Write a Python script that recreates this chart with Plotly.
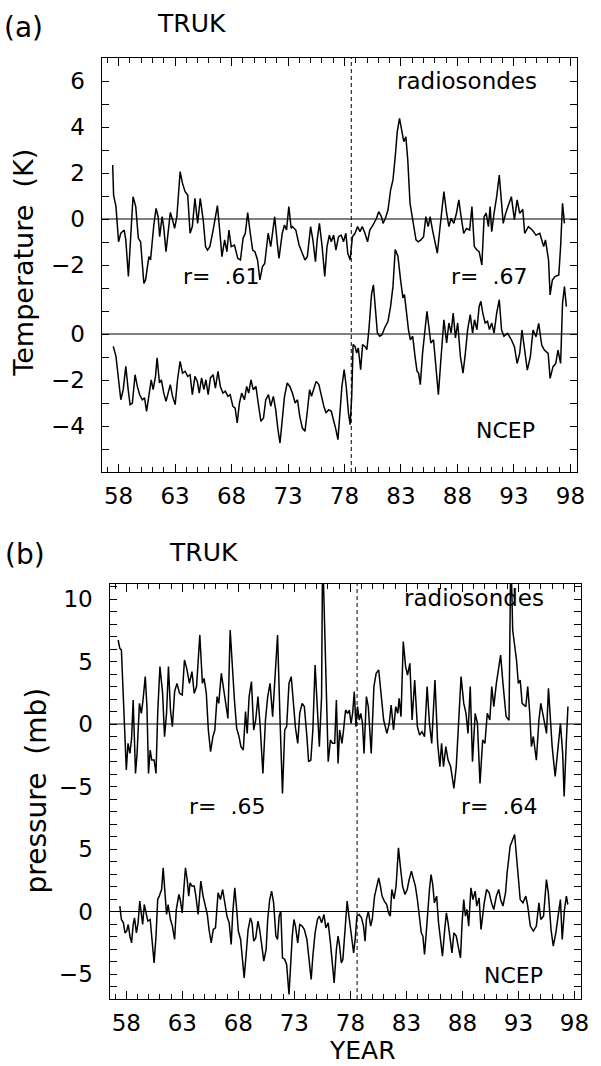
import plotly.graph_objects as go

# ---------------- data ----------------
YEAR_LABELS = [58, 63, 68, 73, 78, 83, 88, 93, 98]
DIVIDE_YEAR = 78.6          # dashed vertical line
TEMP_OFFSET = 5             # radiosonde curve shifted up (K)
PRES_OFFSET = 15            # radiosonde curve shifted up (mb)

TEMP_LABELS_RAD = [6, 4, 2, 0, -2]
TEMP_LABELS_NCEP = [0, -2, -4]
PRES_LABELS_RAD = [10, 5, 0, -5]
PRES_LABELS_NCEP = [5, 0, -5]

# (a) temperature, radiosondes
RAD_T_YEAR = [57.48, 57.56, 57.77, 58.00, 58.20, 58.50, 58.64, 58.87, 59.28, 59.52, 59.75, 59.95, 60.24, 60.39,
              60.68, 60.83, 61.12, 61.32, 61.50, 61.64, 61.85, 61.99, 62.20, 62.37, 62.58, 62.78, 62.96, 63.16,
              63.45, 63.66, 63.89, 64.12, 64.33, 64.53, 64.76, 65.00, 65.23, 65.49, 65.70, 65.87, 66.08, 66.37,
              66.75, 66.95, 67.15, 67.39, 67.59, 67.77, 67.97, 68.26, 68.55, 68.79, 69.02, 69.22, 69.43, 69.66,
              69.87, 70.07, 70.30, 70.51, 70.74, 70.94, 71.24, 71.47, 71.82, 72.05, 72.20, 72.49, 72.69, 72.87,
              73.07, 73.28, 73.39, 73.69, 73.98, 74.21, 74.50, 74.71, 75.00, 75.20, 75.43, 75.58, 75.78, 76.02,
              76.25, 76.45, 76.66, 76.83, 77.04, 77.24, 77.47, 77.71, 77.91, 78.12, 78.29, 78.50, 78.70, 78.93,
              79.16, 79.37, 79.57, 79.81, 80.04, 80.24, 80.53, 80.83, 81.03, 81.27, 81.41, 81.62, 81.85, 82.08,
              82.29, 82.49, 82.67, 82.87, 83.07, 83.25, 83.43, 83.60, 83.80, 83.98, 84.18, 84.33, 84.53, 84.76,
              85.00, 85.20, 85.41, 85.58, 85.79, 85.99, 86.22, 86.43, 86.66, 86.80, 87.04, 87.24, 87.44, 87.68,
              87.91, 88.12, 88.32, 88.55, 88.79, 89.08, 89.28, 89.49, 89.72, 89.92, 90.16, 90.36, 90.54, 90.74,
              90.89, 91.03, 91.24, 91.47, 91.70, 91.90, 92.05, 92.27, 92.60, 92.77, 93.04, 93.28, 93.51, 93.78,
              93.95, 94.28, 94.62, 94.95, 95.29, 95.63, 95.79, 96.06, 96.20, 96.40, 96.63, 96.97, 97.13, 97.30,
              97.47]
RAD_T = [2.35, 1.04, 0.54, -0.99, -0.62, -0.48, -0.91, -2.50, 0.97, 0.54, -0.84, -0.99, -2.80, -2.65,
         -1.64, -1.78, -0.26, 0.46, 0.10, -0.77, 0.10, -0.33, -1.42, -0.77, 0.28, -0.04, -0.41, 0.10,
         2.06, 1.55, 1.19, 1.04, -0.62, -0.33, 0.90, -0.19, 0.90, -0.04, -1.20, -1.35, -1.20, -0.48,
         0.58, -0.48, -1.64, -0.91, -1.42, -0.48, -1.20, -1.13, -1.71, -1.78, -0.84, -0.62, 0.28, -0.62,
         -1.35, -1.42, -1.78, -2.65, -2.07, -1.93, -0.62, -1.20, 0.10, -1.06, -1.71, -0.62, -0.26, -0.48,
         0.54, -0.41, -0.33, -0.48, -1.13, -1.42, -1.78, -1.64, -0.33, -0.91, -1.86, -0.91, -0.19, -1.20,
         -2.50, -1.20, -0.70, -0.99, -0.70, -1.35, -0.77, -0.70, -0.99, -0.62, -1.49, -1.78, -0.77, -0.62,
         -0.33, -0.55, -0.33, -0.62, -0.99, -0.48, -0.26, 0.03, 0.32, 0.10, -0.19, 0.03, 0.39, 1.26,
         1.70, 2.71, 3.80, 4.38, 3.87, 3.36, 3.58, 2.57, 0.68, 0.10, -0.48, -0.91, -0.99, -0.91,
         -0.77, 0.10, -0.33, 0.10, -0.48, -0.99, -1.49, -0.48, 0.68, 1.19, 0.25, -0.33, 0.03, -0.19,
         0.25, 0.83, 0.10, -0.62, -0.41, -0.48, 0.54, -1.20, -1.35, -1.42, -2.00, 0.10, 0.25, -0.33,
         0.54, -0.55, 0.25, 0.97, 1.91, 0.83, -0.19, 0.25, 0.68, 0.97, -0.04, 0.83, 0.25, 0.42,
         -0.62, -0.33, -0.48, -0.70, -0.62, -1.20, -0.91, -1.78, -3.30, -2.65, -2.50, -2.43, -1.20, 0.68,
         -0.19]

# (a) temperature, NCEP
NCEP_T_YEAR = [57.53, 57.77, 58.00, 58.20, 58.41, 58.64, 58.85, 59.02, 59.22, 59.46, 59.66, 59.87, 60.10, 60.30,
               60.48, 60.68, 60.89, 61.06, 61.27, 61.41, 61.62, 61.79, 62.00, 62.20, 62.37, 62.58, 62.78, 63.01,
               63.22, 63.45, 63.66, 63.89, 64.12, 64.33, 64.53, 64.76, 64.97, 65.14, 65.35, 65.55, 65.73, 65.93,
               66.13, 66.37, 66.57, 66.80, 67.01, 67.24, 67.45, 67.68, 67.88, 68.12, 68.32, 68.50, 68.70, 68.90,
               69.14, 69.34, 69.52, 69.72, 69.92, 70.16, 70.36, 70.60, 70.83, 71.03, 71.27, 71.47, 71.70, 71.91,
               72.11, 72.29, 72.49, 72.69, 72.93, 73.16, 73.39, 73.63, 73.84, 74.04, 74.27, 74.50, 74.71, 74.91,
               75.08, 75.29, 75.49, 75.73, 75.96, 76.17, 76.37, 76.60, 76.83, 77.04, 77.24, 77.42, 77.62, 77.77,
               77.97, 78.15, 78.35, 78.50, 78.64, 78.76, 78.93, 79.08, 79.22, 79.43, 79.60, 79.81, 79.98, 80.16,
               80.39, 80.56, 80.74, 80.91, 81.11, 81.32, 81.55, 81.85, 82.08, 82.29, 82.49, 82.73, 82.96, 83.17,
               83.31, 83.45, 83.66, 83.83, 84.04, 84.24, 84.42, 84.56, 84.71, 84.91, 85.12, 85.30, 85.50, 85.64,
               85.88, 86.08, 86.31, 86.51, 86.66, 86.80, 87.04, 87.24, 87.44, 87.62, 87.82, 88.02, 88.26, 88.49,
               88.70, 88.90, 89.13, 89.34, 89.51, 89.72, 89.92, 90.07, 90.24, 90.45, 90.66, 90.83, 91.03, 91.24,
               91.47, 91.70, 91.90, 92.11, 92.44, 92.78, 93.04, 93.28, 93.51, 93.71, 93.95, 94.18, 94.45, 94.69,
               94.95, 95.19, 95.46, 95.69, 96.03, 96.20, 96.46, 96.70, 96.90, 97.13, 97.30, 97.47, 97.64]
NCEP_T = [-0.54, -0.97, -1.99, -2.86, -2.42, -1.41, -2.42, -3.07, -3.00, -1.77, -2.28, -2.64, -2.86, -2.78,
          -3.36, -2.57, -1.99, -2.42, -1.84, -1.04, -2.13, -1.99, -2.57, -2.93, -2.57, -2.20, -2.71, -3.07,
          -1.99, -1.19, -1.70, -1.62, -1.84, -1.77, -2.64, -1.84, -2.06, -2.57, -1.91, -2.42, -1.99, -2.64,
          -1.91, -1.77, -2.35, -1.62, -2.28, -2.57, -2.49, -2.71, -2.64, -3.14, -3.22, -3.87, -3.00, -2.57,
          -2.86, -2.28, -2.57, -1.99, -2.42, -2.28, -3.00, -3.80, -3.65, -2.86, -2.64, -3.14, -2.71, -3.29,
          -4.16, -4.74, -3.72, -2.71, -2.13, -2.28, -2.57, -3.00, -2.86, -3.58, -4.09, -4.23, -3.36, -2.42,
          -2.71, -2.35, -2.06, -2.20, -2.71, -3.14, -3.43, -3.29, -3.36, -3.72, -4.16, -4.59, -3.29, -2.28,
          -1.55, -2.28, -3.43, -3.94, -2.71, -0.46, -0.54, -0.83, -0.61, -1.55, -0.46, -0.54, -0.68, 0.19,
          1.71, 2.14, 1.06, 0.04, -0.10, -0.03, 0.26, 0.55, 1.20, 2.07, 3.67, 3.38, 2.36, 1.57,
          1.71, 1.06, 0.19, -0.25, -0.10, -0.97, -1.62, -1.70, -2.20, -0.83, 0.33, 0.99, 0.19, -0.39,
          -0.25, -1.41, -2.64, -1.26, -0.10, 0.62, -0.39, 0.48, 0.04, 0.91, -0.17, 0.48, -0.97, -1.70,
          -0.83, 0.19, 0.84, 0.04, 0.62, 0.19, 1.20, 1.42, 0.91, 0.48, 0.55, 0.19, 0.48, 0.04,
          0.91, 1.49, 0.19, -0.10, 0.03, -0.26, -0.55, -1.28, -0.84, 0.17, -0.70, -1.57, -0.99, 0.17,
          -0.12, 0.46, -0.48, -0.70, -0.84, -1.93, -1.42, -1.28, -0.70, -1.28, 1.33, 2.06, 1.19]

# (b) pressure, radiosondes
RAD_P_YEAR = [57.27, 57.42, 57.56, 57.74, 57.88, 58.00, 58.15, 58.32, 58.47, 58.61, 58.82, 58.96, 59.17, 59.34,
              59.49, 59.69, 59.84, 59.98, 60.13, 60.27, 60.48, 60.65, 60.80, 61.00, 61.24, 61.41, 61.59, 61.76,
              61.94, 62.11, 62.31, 62.52, 62.75, 62.99, 63.19, 63.39, 63.63, 63.86, 64.06, 64.27, 64.56, 64.79,
              64.94, 65.14, 65.32, 65.52, 65.73, 65.90, 66.10, 66.25, 66.48, 66.69, 66.89, 67.07, 67.27, 67.48,
              67.65, 67.85, 68.06, 68.23, 68.44, 68.64, 68.79, 68.96, 69.17, 69.37, 69.55, 69.75, 69.95, 70.19,
              70.42, 70.62, 70.83, 71.06, 71.27, 71.50, 71.73, 71.94, 72.14, 72.31, 72.52, 72.72, 72.96, 73.10,
              73.30, 73.48, 73.69, 73.89, 74.12, 74.27, 74.47, 74.65, 74.85, 75.06, 75.23, 75.43, 75.52, 76.02,
              76.22, 76.40, 76.60, 76.75, 76.90, 77.04, 77.25, 77.39, 77.57, 77.77, 77.91, 78.06, 78.20, 78.35,
              78.50, 78.64, 78.79, 78.93, 79.08, 79.22, 79.43, 79.60, 79.86, 80.10, 80.30, 80.53, 80.74, 80.97,
              81.26, 81.47, 81.64, 81.85, 82.05, 82.23, 82.35, 82.52, 82.72, 82.93, 83.10, 83.31, 83.51, 83.74,
              83.98, 84.18, 84.39, 84.62, 84.85, 85.06, 85.26, 85.55, 85.79, 85.99, 86.14, 86.31, 86.52, 86.72,
              86.95, 87.24, 87.45, 87.68, 87.88, 88.12, 88.32, 88.50, 88.70, 88.90, 89.14, 89.34, 89.57, 89.81,
              90.01, 90.22, 90.45, 90.62, 90.80, 91.03, 91.24, 91.41, 91.62, 91.90, 92.16, 92.32, 92.49, 92.83,
              92.99, 93.16, 93.33, 93.66, 93.83, 94.00, 94.16, 94.33, 94.60, 94.83, 95.00, 95.24, 95.41, 95.51,
              95.68, 95.84, 96.01, 96.28, 96.51, 96.75, 96.95, 97.08, 97.28, 97.42]
RAD_P = [6.72, 6.05, 5.92, 1.39, -0.75, -3.68, -1.55, -2.35, -1.15, 1.92, -3.95, -2.35, 1.65, 0.85,
         1.92, 3.79, 1.39, -3.95, -2.08, -2.88, -2.88, -3.95, 0.85, 4.59, 2.45, -1.01, 0.85, 4.59,
         1.12, -0.21, 2.59, 3.25, 2.45, 2.32, 5.12, 4.45, 3.25, 4.19, 2.45, 2.99, 7.12, 3.25,
         3.65, 2.45, -0.48, -2.21, -1.01, -0.48, 2.19, 1.65, 4.05, 2.72, 1.39, 0.45, 7.52, 4.05,
         1.92, -0.35, -1.01, -1.81, -2.08, 0.99, -0.75, 2.19, 3.39, -0.48, 0.32, 2.19, -0.21, -3.95,
         0.32, 2.19, 3.25, 0.59, 3.79, 7.12, 0.05, -5.55, -0.48, -0.21, 3.25, 3.79, 1.20, -0.32,
         -1.55, 0.85, 1.65, 1.39, -1.01, -3.01, -2.88, -0.48, 4.72, 1.39, -1.81, 2.19, 14.0, -3.01,
         -1.28, -1.55, -1.55, 1.92, -3.15, -0.48, -1.55, -0.48, 1.12, 0.85, 1.12, 0.05, 0.85, 2.59,
         -0.21, 1.39, 0.32, 0.85, 0.05, -2.35, 2.19, 1.39, -2.35, 2.99, 4.05, 4.32, 2.45, 0.32,
         -0.75, 0.05, 1.52, -0.48, 1.39, 0.85, 2.05, 0.59, 6.59, 4.59, 3.92, 4.85, 0.32, 3.52,
         -0.21, -0.88, -0.61, -1.01, 2.99, 0.05, -1.55, 3.52, -1.55, -3.41, -1.55, -3.41, -1.81, -2.88,
         -3.41, -5.15, -3.41, 0.32, 3.79, 1.65, 0.85, -0.75, 2.99, -3.01, 0.85, 0.05, -4.75, -1.28,
         -1.55, 0.85, 0.32, 2.99, 1.39, 3.25, 4.59, 5.52, 3.25, 0.60, 0.30, 14.0, 7.50, 5.10,
         3.25, 3.52, 1.65, 1.39, 3.00, 1.00, -1.80, -1.00, -2.90, 0.30, 1.65, 0.60, -0.20, -0.75,
         2.85, 0.85, -1.80, -4.20, -2.10, 0.05, -2.35, -5.80, -1.30, 1.40]

# (b) pressure, NCEP
NCEP_P_YEAR = [57.42, 57.56, 57.74, 57.88, 58.03, 58.17, 58.32, 58.47, 58.61, 58.73, 58.90, 59.05, 59.20, 59.34,
               59.46, 59.60, 59.78, 59.92, 60.13, 60.27, 60.48, 60.65, 60.80, 60.94, 61.15, 61.29, 61.44, 61.59,
               61.73, 61.94, 62.11, 62.31, 62.46, 62.69, 62.81, 62.99, 63.13, 63.28, 63.43, 63.57, 63.69, 63.86,
               64.06, 64.21, 64.41, 64.65, 64.85, 65.08, 65.23, 65.38, 65.58, 65.76, 65.96, 66.19, 66.40, 66.60,
               66.78, 66.98, 67.18, 67.36, 67.50, 67.68, 67.85, 68.00, 68.20, 68.38, 68.52, 68.73, 68.87, 69.08,
               69.22, 69.37, 69.55, 69.75, 69.90, 70.10, 70.27, 70.48, 70.62, 70.80, 70.97, 71.15, 71.35, 71.50,
               71.64, 71.79, 71.94, 72.14, 72.31, 72.52, 72.66, 72.81, 72.96, 73.10, 73.30, 73.48, 73.69, 73.89,
               74.12, 74.33, 74.50, 74.65, 74.85, 75.06, 75.23, 75.43, 75.64, 75.81, 76.02, 76.22, 76.40, 76.55,
               76.75, 76.90, 77.04, 77.19, 77.33, 77.54, 77.71, 77.91, 78.12, 78.29, 78.44, 78.58, 78.79, 78.99,
               79.17, 79.31, 79.43, 79.60, 79.81, 79.95, 80.16, 80.33, 80.53, 80.68, 80.83, 81.03, 81.24, 81.41,
               81.56, 81.70, 81.90, 82.08, 82.29, 82.49, 82.66, 82.87, 83.07, 83.25, 83.45, 83.60, 83.80, 83.98,
               84.18, 84.33, 84.47, 84.62, 84.77, 84.91, 85.06, 85.20, 85.35, 85.50, 85.70, 85.87, 86.02, 86.22,
               86.42, 86.57, 86.72, 86.89, 87.07, 87.24, 87.45, 87.62, 87.83, 87.97, 88.12, 88.27, 88.41, 88.56,
               88.76, 88.94, 89.14, 89.28, 89.49, 89.66, 89.81, 89.95, 90.16, 90.39, 90.60, 90.80, 91.03, 91.24,
               91.41, 91.62, 91.85, 91.99, 92.26, 92.66, 92.93, 93.16, 93.40, 93.66, 93.83, 94.06, 94.33, 94.60,
               94.83, 95.00, 95.24, 95.50, 95.67, 95.91, 96.11, 96.34, 96.58, 96.75, 96.91, 97.11, 97.28, 97.41]
NCEP_P = [0.43, -0.64, -0.91, -1.71, -1.57, -1.04, -1.97, -2.51, -1.04, -0.51, -1.71, -0.91, 0.83, -0.37,
          -1.04, 0.56, -0.37, -0.77, -0.64, -2.24, -4.11, -1.97, 0.96, 1.23, 1.76, 3.49, 1.49, -0.24,
          0.56, -0.64, -1.17, -2.24, 0.16, 1.36, 0.96, -0.11, 1.76, 3.49, 2.56, 1.23, 2.29, 2.03,
          2.03, 1.23, -0.24, 2.43, 1.23, 0.16, -0.24, -1.44, -2.51, -1.44, -1.31, 1.49, 0.96, 1.76,
          0.69, -0.37, -0.91, -2.64, -0.11, 1.89, 0.16, -1.57, -2.24, -3.84, -5.31, -3.04, -1.44, -0.51,
          -0.91, -2.37, -2.11, -0.77, -1.44, -2.77, -3.97, -3.04, -0.64, 0.96, 1.63, 0.69, -1.97, -2.24,
          -0.37, 0.03, -3.71, -3.84, -4.24, -6.64, -4.37, -1.97, -0.64, -1.17, -2.51, -1.04, -1.17, -1.44,
          -2.24, -3.84, -5.44, -3.57, -1.71, -0.64, -0.37, -0.91, -0.24, -1.31, -0.91, -2.51, -4.11, -5.71,
          -3.04, -1.97, -2.77, -4.11, -3.84, -1.44, 0.83, -0.64, -1.97, -3.31, -2.11, -0.37, -0.24, -0.51,
          -1.17, -2.37, -0.64, 0.03, -1.17, -0.64, 1.23, 2.03, 2.69, 2.03, 1.23, 0.83, 0.56, -0.11,
          -0.37, 1.76, 1.01, 2.03, 5.09, 3.36, 2.03, 1.36, 1.76, 2.56, 3.23, 2.69, 2.03, 0.96,
          -0.37, -1.71, -1.97, -3.44, -1.71, 0.16, 1.76, 2.96, 2.16, 0.69, 1.23, -0.91, -1.97, -3.57,
          -1.44, -0.11, -0.91, -1.97, -3.31, -1.71, -1.97, -2.77, -3.71, -0.91, 0.96, -0.37, 0.16, -1.17,
          1.89, 0.96, 1.63, 0.43, 1.09, -1.44, -0.11, 0.69, 1.76, 1.49, 0.69, 0.16, 1.23, 1.76,
          0.96, 0.43, 1.50, 3.09, 5.23, 6.16, 3.36, 0.96, 0.69, 1.23, 0.43, -1.17, -1.57, -1.17,
          0.69, -0.64, -0.37, 2.56, 1.49, -1.44, -2.77, -1.71, -0.11, 0.96, -2.24, 0.16, 1.23, 0.56]

# ---------------- figure ----------------
W, H = 601, 1066
FONT = "DejaVu Sans"
BLACK = "black"


def px(x, y):
    return x / W, 1 - y / H


def fmt(v):
    return str(v) if v >= 0 else "\u2212" + str(-v)


fig = go.Figure()
line_style = dict(color=BLACK, width=1.5)
fig.add_trace(go.Scatter(x=RAD_T_YEAR, y=[v + TEMP_OFFSET for v in RAD_T], mode="lines",
                         line=line_style, xaxis="x", yaxis="y", hoverinfo="skip"))
fig.add_trace(go.Scatter(x=NCEP_T_YEAR, y=NCEP_T, mode="lines",
                         line=line_style, xaxis="x", yaxis="y", hoverinfo="skip"))
fig.add_trace(go.Scatter(x=RAD_P_YEAR, y=[v + PRES_OFFSET for v in RAD_P], mode="lines",
                         line=line_style, xaxis="x2", yaxis="y2", hoverinfo="skip"))
fig.add_trace(go.Scatter(x=NCEP_P_YEAR, y=NCEP_P, mode="lines",
                         line=line_style, xaxis="x2", yaxis="y2", hoverinfo="skip"))

tick_font = dict(family=FONT, size=23, color=BLACK)
X_RANGE = [56.5, 98.6]


def xaxis(domain, anchor):
    return dict(domain=domain, anchor=anchor, range=X_RANGE,
                tickmode="array", tickvals=YEAR_LABELS, ticktext=[str(v) for v in YEAR_LABELS],
                ticks="inside", ticklen=8, tickwidth=1, tickcolor=BLACK,
                minor=dict(ticks="inside", ticklen=5, dtick=1, tick0=0, tickcolor=BLACK, showgrid=False),
                showline=True, linecolor=BLACK, linewidth=1.3, mirror="ticks",
                showgrid=False, zeroline=False, tickfont=tick_font, ticklabelstandoff=3)


def yaxis(domain, anchor, rng, vals, texts):
    return dict(domain=domain, anchor=anchor, range=rng,
                tickmode="array", tickvals=vals, ticktext=texts,
                ticks="inside", ticklen=7, tickwidth=1, tickcolor=BLACK,
                minor=dict(ticks="inside", ticklen=7, dtick=1, tick0=0, tickcolor=BLACK, showgrid=False),
                showline=True, linecolor=BLACK, linewidth=1.3, mirror="ticks",
                showgrid=False, zeroline=False, tickfont=tick_font, ticklabelstandoff=11)


t_vals = [v + TEMP_OFFSET for v in TEMP_LABELS_RAD] + TEMP_LABELS_NCEP
t_text = [fmt(v) for v in TEMP_LABELS_RAD + TEMP_LABELS_NCEP]
p_vals = [v + PRES_OFFSET for v in PRES_LABELS_RAD] + PRES_LABELS_NCEP
p_text = [fmt(v) for v in PRES_LABELS_RAD + PRES_LABELS_NCEP]

ax_a = [103 / W, 585 / W]
ay_a = [1 - 472 / H, 1 - 58 / H]
ax_b = [111 / W, 589 / W]
ay_b = [1 - 999 / H, 1 - 584 / H]

shapes = []
for xr, yr, yv in (("x", "y", TEMP_OFFSET), ("x", "y", 0), ("x2", "y2", PRES_OFFSET), ("x2", "y2", 0)):
    shapes.append(dict(type="line", xref=xr + " domain", x0=0, x1=1, yref=yr, y0=yv, y1=yv,
                       line=dict(color=BLACK, width=1.2)))
for xr, yr in (("x", "y"), ("x2", "y2")):
    shapes.append(dict(type="line", xref=xr, x0=DIVIDE_YEAR, x1=DIVIDE_YEAR, yref=yr + " domain", y0=0, y1=1,
                       line=dict(color=BLACK, width=1, dash="4px,3px")))


def ann(text, xy, size, angle=0):
    x, y = px(*xy)
    return dict(text=text, x=x, y=y, xref="paper", yref="paper", showarrow=False,
                xanchor="center", yanchor="middle", textangle=angle,
                font=dict(family=FONT, size=size, color=BLACK))


annotations = [
    ann("(a)", (24, 28), 28),
    ann("TRUK", (194, 24), 25),
    ann("radiosondes", (473, 81), 23),
    ann("r=  .61", (224, 276), 22),
    ann("r=  .67", (496, 276), 22),
    ann("NCEP", (512, 431), 22),
    ann("Temperature  (K)", (24, 263), 27, -90),
    ann("(b)", (25, 554), 28),
    ann("TRUK", (206, 552), 25),
    ann("radiosondes", (480, 598), 23),
    ann("r=  .65", (230, 806), 22),
    ann("r=  .64", (506, 806), 22),
    ann("NCEP", (520, 975), 22),
    ann("pressure  (mb)", (36, 791), 28, -90),
    ann("YEAR", (367, 1050), 25),
]

fig.update_layout(
    width=W, height=H, margin=dict(l=0, r=0, t=0, b=0),
    paper_bgcolor="white", plot_bgcolor="white", showlegend=False,
    xaxis=xaxis(ax_a, "y"), yaxis=yaxis(ay_a, "x", [-6, 12], t_vals, t_text),
    xaxis2=xaxis(ax_b, "y2"), yaxis2=yaxis(ay_b, "x2", [-7, 26.2], p_vals, p_text),
    shapes=shapes, annotations=annotations,
    font=dict(family=FONT, color=BLACK),
)

fig.write_html("out.html", config={"displayModeBar": False},
               post_script="document.body.style.margin='0';document.body.style.overflow='hidden';")
